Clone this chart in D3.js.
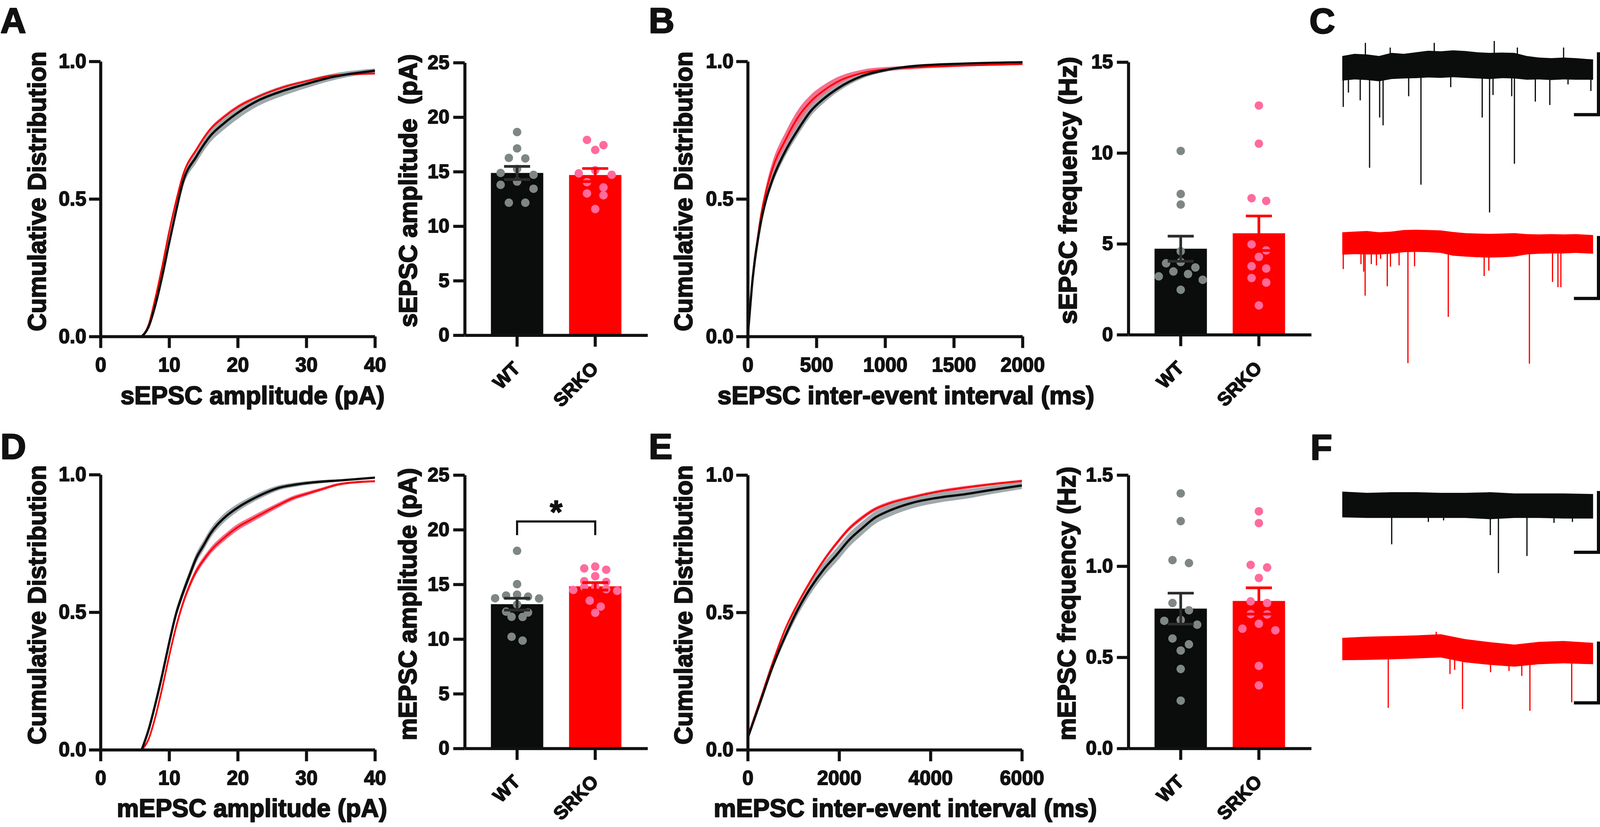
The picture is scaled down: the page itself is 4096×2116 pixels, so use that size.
<!DOCTYPE html>
<html><head><meta charset="utf-8">
<script src="https://cdn.jsdelivr.net/npm/d3@7"></script>
<style>html,body{margin:0;padding:0;background:#fff;overflow:hidden}svg{display:block}</style>
</head><body>
<script>
// ---------------- DATA ----------------
const groups = ["WT", "SRKO"];

// A: sEPSC amplitude cumulative distribution
const sAmpX        = [6, 7, 8, 9, 10, 11, 12, 14, 16, 18, 20, 23, 26.5, 30, 34, 40];
const sAmpCdfWT    = [0, 0.035, 0.115, 0.22, 0.34, 0.455, 0.56, 0.655, 0.729, 0.775, 0.813, 0.858, 0.892, 0.918, 0.944, 0.966];
const sAmpCdfWTsem = [0, 0.005, 0.010, 0.013, 0.016, 0.018, 0.020, 0.022, 0.023, 0.023, 0.022, 0.020, 0.018, 0.015, 0.012, 0.008];
const sAmpCdfKO    = [0, 0.042, 0.14, 0.255, 0.38, 0.49, 0.585, 0.68, 0.753, 0.798, 0.834, 0.872, 0.905, 0.928, 0.949, 0.956];
const sAmpCdfKOsem = [0, 0.003, 0.005, 0.006, 0.007, 0.007, 0.007, 0.007, 0.007, 0.007, 0.007, 0.006, 0.006, 0.005, 0.004, 0.004];

// B: sEPSC inter-event interval cumulative distribution
const sIeiX        = [0, 15, 30, 50, 70, 90, 135, 180, 275, 370, 460, 555, 650, 835, 1020, 1210, 1580, 2000];
const sIeiCdfWT    = [0, 0.09, 0.18, 0.27, 0.34, 0.40, 0.50, 0.57, 0.675, 0.755, 0.82, 0.865, 0.90, 0.947, 0.97, 0.983, 0.992, 0.997];
const sIeiCdfWTsem = [0, 0.005, 0.008, 0.010, 0.012, 0.014, 0.016, 0.018, 0.019, 0.019, 0.018, 0.016, 0.013, 0.009, 0.006, 0.004, 0.002, 0.001];
const sIeiCdfKO    = [0, 0.09, 0.18, 0.28, 0.35, 0.42, 0.53, 0.61, 0.715, 0.80, 0.855, 0.895, 0.925, 0.958, 0.972, 0.978, 0.985, 0.99];
const sIeiCdfKOsem = [0, 0.006, 0.010, 0.013, 0.016, 0.018, 0.022, 0.025, 0.028, 0.027, 0.024, 0.020, 0.017, 0.012, 0.008, 0.006, 0.004, 0.003];

// D: mEPSC amplitude cumulative distribution
const mAmpX        = [6, 7, 8, 9, 10, 11, 12, 13, 14, 15, 16, 18, 20, 22, 24, 26, 28, 30, 32, 35, 40];
const mAmpCdfWT    = [0, 0.072, 0.167, 0.273, 0.388, 0.493, 0.569, 0.636, 0.699, 0.742, 0.785, 0.842, 0.88, 0.909, 0.933, 0.952, 0.962, 0.969, 0.974, 0.979, 0.989];
const mAmpCdfWTsem = [0, 0.005, 0.009, 0.012, 0.014, 0.016, 0.017, 0.018, 0.018, 0.018, 0.017, 0.016, 0.014, 0.012, 0.011, 0.009, 0.008, 0.007, 0.006, 0.004, 0.003];
const mAmpCdfKO    = [0, 0.038, 0.12, 0.225, 0.34, 0.445, 0.531, 0.598, 0.651, 0.689, 0.722, 0.77, 0.809, 0.837, 0.864, 0.89, 0.914, 0.93, 0.945, 0.966, 0.976];
const mAmpCdfKOsem = [0, 0.004, 0.007, 0.009, 0.011, 0.012, 0.012, 0.012, 0.012, 0.012, 0.012, 0.012, 0.012, 0.011, 0.010, 0.009, 0.008, 0.007, 0.006, 0.005, 0.004];

// E: mEPSC inter-event interval cumulative distribution
const mIeiX        = [0, 264, 544, 825, 1106, 1386, 1667, 1948, 2228, 2509, 2790, 3070, 3631, 4193, 4754, 5315, 6000];
const mIeiCdfWT    = [0.043, 0.168, 0.302, 0.415, 0.513, 0.592, 0.657, 0.71, 0.765, 0.807, 0.845, 0.868, 0.90, 0.918, 0.93, 0.945, 0.962];
const mIeiCdfWTsem = [0.005, 0.008, 0.012, 0.016, 0.020, 0.022, 0.024, 0.025, 0.025, 0.024, 0.023, 0.022, 0.020, 0.018, 0.017, 0.015, 0.013];
const mIeiCdfKO    = [0.048, 0.177, 0.316, 0.441, 0.535, 0.617, 0.69, 0.752, 0.806, 0.845, 0.876, 0.895, 0.92, 0.94, 0.954, 0.966, 0.978];
const mIeiCdfKOsem = [0.004, 0.005, 0.006, 0.007, 0.008, 0.008, 0.008, 0.008, 0.008, 0.008, 0.007, 0.007, 0.006, 0.006, 0.006, 0.005, 0.005];

// Bar + scatter data (per cell)
const sAmpWT  = [18.63, 17.13, 16.26, 16.21, 15.25, 14.88, 14.71, 14.09, 13.79, 13.43, 12.15, 12.15];
const sAmpKO  = [17.91, 17.43, 16.99, 15.13, 14.84, 14.71, 14.04, 13.55, 13.0, 12.83, 11.57];
const sAmpMean = [14.88, 14.69], sAmpSem = [0.60, 0.60];
const sFreqWT = [10.11, 7.74, 7.16, 4.59, 4.0, 3.93, 3.70, 3.48, 3.34, 3.21, 3.02, 2.47];
const sFreqKO = [12.61, 10.51, 7.51, 7.36, 4.97, 4.64, 4.28, 3.77, 3.64, 3.12, 2.87, 1.61];
const sFreqMean = [4.73, 5.58], sFreqSem = [0.69, 0.95];
const mAmpWT  = [18.07, 15.02, 14.06, 13.98, 13.88, 13.73, 13.71, 13.16, 12.51, 12.43, 12.04, 12.02, 10.21, 9.86];
const mAmpKO  = [16.63, 16.46, 16.34, 15.75, 15.29, 15.23, 14.78, 14.76, 14.56, 14.49, 14.41, 13.51, 12.97, 12.40];
const mAmpMean = [13.19, 14.82], mAmpSem = [0.54, 0.34];
const mAmpBracket = [20.75, 19.5];   // bracket top / leg end (pA)
const mFreqWT = [1.399, 1.247, 1.033, 1.017, 0.798, 0.758, 0.705, 0.700, 0.679, 0.603, 0.571, 0.537, 0.436, 0.262];
const mFreqKO = [1.301, 1.236, 1.007, 0.993, 0.935, 0.807, 0.798, 0.737, 0.735, 0.684, 0.657, 0.648, 0.453, 0.346];
const mFreqMean = [0.767, 0.809], mFreqSem = [0.085, 0.072];

// Tick values
const cdfYTicks = [0, 0.5, 1.0];
const ampXTicks = [0, 10, 20, 30, 40];
const sIeiXTicks = [0, 500, 1000, 1500, 2000];
const mIeiXTicks = [0, 2000, 4000, 6000];
const ampBarTicks = [0, 5, 10, 15, 20, 25];
const sFreqTicks = [0, 5, 10, 15];
const mFreqTicks = [0, 0.5, 1.0, 1.5];

// Example traces (time in s, current in pA relative to baseline)
const tEnvC = [0, 0.5, 1, 1.5, 2, 2.5, 3, 3.5, 4, 4.5, 5, 5.5, 6, 6.5, 7, 7.5, 8, 8.5, 9, 9.5, 10.2];
const cWTup = [3.2, 3.9, 3.7, 3.2, 4.2, 3.9, 4.4, 4.9, 4.7, 5.0, 4.8, 4.4, 4.2, 4.3, 4.2, 3.2, 2.7, 2.5, 2.7, 2.5, 2.1];
const cWTlo = [-4.7, -4.3, -4.5, -4.9, -4.2, -4.0, -3.9, -3.7, -3.8, -3.6, -3.8, -4.0, -4.2, -3.9, -4.0, -4.4, -4.3, -4.5, -4.3, -4.4, -4.4];
const cKOup = [3.2, 3.4, 3.6, 3.2, 3.4, 3.9, 4.0, 3.9, 3.8, 3.3, 2.9, 2.8, 2.7, 2.8, 2.9, 2.6, 2.5, 2.6, 2.5, 2.6, 2.3];
const cKOlo = [-4.0, -3.8, -3.9, -3.9, -3.7, -3.2, -3.1, -3.2, -3.4, -4.3, -4.6, -4.8, -4.9, -4.8, -4.6, -3.9, -3.7, -3.6, -3.6, -3.4, -3.7];
const cWTevT = [0.04, 0.25, 0.73, 1.11, 1.52, 1.66, 2.70, 3.20, 4.41, 5.69, 5.99, 6.13, 6.89, 7.00, 7.85, 8.44, 9.18, 10.11, 0.94, 1.95, 3.74, 6.18, 7.12, 9.0];
const cWTevA = [-13.1, -8.5, -11, -32.6, -16.5, -19, -9.7, -38, -6.8, -16.5, -46.9, -9.3, -9.7, -31.3, -11.4, -12.5, -5.9, -8, 7.4, 5.9, 7.4, 8.0, 5.9, 5.9];
const cKOevT = [0.04, 0.76, 0.87, 0.93, 1.18, 1.39, 1.56, 1.83, 1.96, 2.31, 2.67, 2.94, 4.31, 5.77, 5.96, 7.61, 8.55, 8.77, 8.89];
const cKOevA = [-8.6, -7, -9.4, -17.1, -7, -7.4, -5.3, -14.1, -7.8, -7.4, -38.7, -7.7, -23.9, -10.8, -9.1, -38.9, -12.7, -14.4, -14.4];
const tEnvF = [0, 1, 2, 3, 4, 5, 6, 7, 8, 9, 10.2];
const fWTup = [2.2, 2.0, 2.1, 2.1, 2.0, 2.0, 2.1, 1.9, 1.9, 1.9, 1.8];
const fWTlo = [-2.0, -2.1, -2.1, -2.1, -2.1, -2.1, -2.3, -2.1, -2.1, -2.2, -2.2];
const fKOup = [1.9, 2.1, 2.2, 2.3, 2.5, 1.7, 1.2, 0.8, 1.25, 1.4, 1.1];
const fKOlo = [-1.75, -1.7, -1.6, -1.45, -1.3, -2.1, -2.5, -2.8, -2.4, -2.25, -2.4];
const fWTevT = [2.01, 3.50, 4.12, 6.02, 6.35, 7.51, 8.61, 9.36];
const fWTevA = [-6.4, -2.75, -2.5, -4.9, -11.1, -8.3, -2.9, -2.75];
const fKOevT = [1.87, 3.82, 4.38, 4.57, 4.89, 6.03, 6.78, 7.30, 7.63, 9.33];
const fKOevA = [-9.5, 2.9, -4.0, -3.3, -9.7, -3.7, -3.5, -4.3, -10.0, -8.6];
// scale bars: 20 pA / 1 s (C), 10 pA / 1 s (F); top of vertical bar in pA
const scaleBarTopC = [4.4, 2.0], scaleBarTopF = [2.3, 1.3];

// ---------------- DRAWING ----------------
const COL = {black:"#0b0c0c", red:"#ff0000", grayDot:"#7f8785", pinkDot:"#ff6b9c",
             grayBand:"#a0a8ab", pinkBand:"#f4708f", ebWT:"#2b2d2d", ink:"#111111"};
const FONT = '"Liberation Sans", Arial, Helvetica, sans-serif';

const svg = d3.select("body").append("svg")
  .attr("width", 4096).attr("height", 2116).attr("viewBox", "0 0 4178 2158");
svg.append("rect").attr("width", 4178).attr("height", 2158).attr("fill", "#fff");

function heavy(sel, w) {
  sel.attr("stroke", COL.ink).attr("stroke-width", w).attr("stroke-linejoin", "round").attr("paint-order", "stroke");
}
function styleAxis(g, fs) {
  g.attr("font-family", FONT).attr("font-size", fs).attr("font-weight", "bold").style("color", COL.ink);
  g.select(".domain").attr("stroke-width", 8);
  g.selectAll(".tick line").attr("stroke-width", 8);
  heavy(g.selectAll(".tick text"), 2.2);
}

function cdfPanel(cfg) {
  const x = d3.scaleLinear().domain(cfg.xDomain).range(cfg.xRange);
  const y = d3.scaleLinear().domain([0, 1]).range(cfg.yRange);
  const g = svg.append("g");
  const band = (m, s) => d3.area()
    .x((d, i) => x(cfg.xs[i]))
    .y0((d, i) => y(Math.max(0, m[i] - s[i])))
    .y1((d, i) => y(Math.min(1, m[i] + s[i])))
    .curve(d3.curveMonotoneX)(cfg.xs);
  const ln = m => d3.line().x((d, i) => x(cfg.xs[i])).y((d, i) => y(m[i])).curve(d3.curveMonotoneX)(cfg.xs);
  g.append("path").attr("d", band(cfg.ko, cfg.koSem)).attr("fill", COL.pinkBand);
  g.append("path").attr("d", band(cfg.wt, cfg.wtSem)).attr("fill", COL.grayBand);
  g.append("path").attr("d", ln(cfg.ko)).attr("fill", "none").attr("stroke", COL.red).attr("stroke-width", 4.5);
  g.append("path").attr("d", ln(cfg.wt)).attr("fill", "none").attr("stroke", COL.black).attr("stroke-width", 6);
  const ya = g.append("g").attr("transform", `translate(${cfg.xRange[0]},0)`)
    .call(d3.axisLeft(y).tickValues(cdfYTicks).tickFormat(d3.format(".1f")).tickSize(30).tickPadding(7).tickSizeOuter(0));
  styleAxis(ya, 52);
  const xa = g.append("g").attr("transform", `translate(0,${cfg.yRange[0]})`)
    .call(d3.axisBottom(x).tickValues(cfg.xTicks).tickFormat(d3.format("d")).tickSize(30).tickPadding(25).tickSizeOuter(0));
  styleAxis(xa, 52);
}

function swarmRows(vals, y, thresh) {
  const idx = vals.map((v, i) => i).sort((a, b) => vals[b] - vals[a]);
  const rows = []; let cur = null;
  idx.forEach(i => {
    const py = y(vals[i]);
    if (!cur || py - cur.top > thresh) { cur = {top: py, items: []}; rows.push(cur); }
    cur.items.push(i);
  });
  return rows.map(r => r.items);
}

function barPanel(cfg) {
  const x = d3.scaleBand().domain(groups).range(cfg.xRange).paddingInner(0.33).paddingOuter(0.335);
  const y = d3.scaleLinear().domain(cfg.yDomain).range(cfg.yRange);
  const g = svg.append("g");
  const bw = x.bandwidth(), r = 11;
  const sets = [cfg.wt, cfg.ko];
  const rows = sets.map(v => swarmRows(v, y, 22));
  const maxN = d3.max(rows.flat(), rw => rw.length);
  const spacing = maxN > 1 ? Math.min(43, (bw - 2 * r) / (maxN - 1)) : 0;

  groups.forEach((grp, gi) => {
    g.append("rect").attr("x", x(grp)).attr("y", y(cfg.mean[gi]))
      .attr("width", bw).attr("height", y(0) - y(cfg.mean[gi]))
      .attr("fill", gi ? COL.red : COL.black);
  });
  groups.forEach((grp, gi) => {
    const cx = x(grp) + bw / 2, vals = sets[gi];
    const off = new Array(vals.length).fill(0);
    rows[gi].forEach(rw => {
      const n = rw.length;
      const slots = d3.range(n).map(k => k - (n - 1) / 2).sort((a, b) => Math.abs(a) - Math.abs(b) || a - b);
      rw.forEach((i, k) => off[i] = slots[k] * spacing);
    });
    g.append("g").selectAll("circle").data(vals).join("circle")
      .attr("cx", (d, i) => cx + off[i]).attr("cy", d => y(d)).attr("r", r)
      .attr("fill", gi ? COL.pinkDot : COL.grayDot);
  });
  groups.forEach((grp, gi) => {
    const cx = x(grp) + bw / 2, m = cfg.mean[gi], s = cfg.sem[gi];
    const col = gi ? COL.red : COL.ebWT;
    const eb = g.append("g").attr("stroke", col).attr("stroke-width", 7);
    eb.append("line").attr("x1", cx).attr("x2", cx).attr("y1", y(m - s)).attr("y2", y(m + s));
    [m - s, m + s].forEach(v => eb.append("line").attr("x1", cx - 34).attr("x2", cx + 34).attr("y1", y(v)).attr("y2", y(v)));
  });
  if (cfg.bracket) {
    const x1 = x("WT") + bw / 2, x2 = x("SRKO") + bw / 2;
    g.append("path").attr("d", d3.line()([[x1, y(cfg.bracket[1])], [x1, y(cfg.bracket[0])], [x2, y(cfg.bracket[0])], [x2, y(cfg.bracket[1])]]))
      .attr("fill", "none").attr("stroke", COL.ink).attr("stroke-width", 5.5);
    g.append("text").attr("x", (x1 + x2) / 2).attr("y", y(cfg.bracket[0]) + 4.5)
      .attr("text-anchor", "middle").attr("font-family", FONT).attr("font-weight", "bold")
      .attr("font-size", 85).attr("fill", COL.ink).text("*").call(heavy, 2);
  }
  const ya = g.append("g").attr("transform", `translate(${cfg.xRange[0]},0)`)
    .call(d3.axisLeft(y).tickValues(cfg.yTicks).tickFormat(cfg.fmt).tickSize(30).tickPadding(10).tickSizeOuter(0));
  styleAxis(ya, 51);
  const xa = g.append("g").attr("transform", `translate(0,${cfg.yRange[0]})`)
    .call(d3.axisBottom(x).tickSize(30).tickSizeOuter(0));
  styleAxis(xa, 49);
  xa.selectAll(".tick text").attr("x", 11).attr("y", 90).attr("dy", null)
    .attr("text-anchor", "end").attr("transform", "rotate(-45 11 90)");
}

const xT = d3.scaleLinear().domain([0, 10.2]).range([3505, 4160]);
function tracePanel(cfg) {
  const y = d3.scaleLinear().domain([0, -cfg.barPA]).range([cfg.base, cfg.base + cfg.barPx]);
  const g = svg.append("g");
  const area = d3.area().x((d, i) => xT(cfg.tEnv[i])).y0((d, i) => y(cfg.lo[i])).y1((d, i) => y(cfg.up[i]));
  g.append("path").attr("d", area(cfg.tEnv)).attr("fill", cfg.color);
  g.append("g").selectAll("line").data(cfg.evT).join("line")
    .attr("x1", t => xT(t)).attr("x2", t => xT(t))
    .attr("y1", y(0)).attr("y2", (t, i) => y(cfg.evA[i]))
    .attr("stroke", cfg.color).attr("stroke-width", 3.2);
  const cT = 10.42, bot = cfg.barTop - cfg.barPA;
  g.append("path").attr("d", d3.line()([[xT(cT - 1), y(bot)], [xT(cT), y(bot)], [xT(cT), y(cfg.barTop)]]))
    .attr("fill", "none").attr("stroke", COL.black).attr("stroke-width", 8.5).attr("stroke-linejoin", "miter");
}

function vTitle(txt, bx, cy, len) {
  svg.append("text").attr("transform", `translate(${bx},${cy}) rotate(-90)`)
    .attr("text-anchor", "middle").attr("font-family", FONT).attr("font-weight", "bold")
    .attr("font-size", 66).attr("fill", COL.ink)
    .attr("textLength", len).attr("lengthAdjust", "spacingAndGlyphs").text(txt).call(heavy, 2.6);
}
function hTitle(txt, cx, by, len) {
  svg.append("text").attr("x", cx).attr("y", by)
    .attr("text-anchor", "middle").attr("font-family", FONT).attr("font-weight", "bold")
    .attr("font-size", 66).attr("fill", COL.ink)
    .attr("textLength", len).attr("lengthAdjust", "spacingAndGlyphs").text(txt).call(heavy, 2.6);
}
function panelLabel(txt, x, y) {
  svg.append("text").attr("x", x).attr("y", y).attr("font-family", FONT).attr("font-weight", "bold")
    .attr("font-size", 93).attr("fill", COL.ink).text(txt).call(heavy, 3);
}

// Top row
cdfPanel({xDomain: [0, 40], xRange: [262.5, 979], yRange: [878, 160], xTicks: ampXTicks,
  xs: sAmpX, wt: sAmpCdfWT, wtSem: sAmpCdfWTsem, ko: sAmpCdfKO, koSem: sAmpCdfKOsem});
cdfPanel({xDomain: [0, 2000], xRange: [1952.5, 2670], yRange: [878, 160], xTicks: sIeiXTicks,
  xs: sIeiX, wt: sIeiCdfWT, wtSem: sIeiCdfWTsem, ko: sIeiCdfKO, koSem: sIeiCdfKOsem});
barPanel({xRange: [1213.5, 1691], yRange: [874.6, 163.2], yDomain: [0, 25], yTicks: ampBarTicks, fmt: d3.format("d"),
  wt: sAmpWT, ko: sAmpKO, mean: sAmpMean, sem: sAmpSem});
barPanel({xRange: [2946.4, 3424], yRange: [873.3, 161.8], yDomain: [0, 15], yTicks: sFreqTicks, fmt: d3.format("d"),
  wt: sFreqWT, ko: sFreqKO, mean: sFreqMean, sem: sFreqSem});

// Bottom row
cdfPanel({xDomain: [0, 40], xRange: [262.5, 979], yRange: [1956.6, 1238.5], xTicks: ampXTicks,
  xs: mAmpX, wt: mAmpCdfWT, wtSem: mAmpCdfWTsem, ko: mAmpCdfKO, koSem: mAmpCdfKOsem});
cdfPanel({xDomain: [0, 6000], xRange: [1952.5, 2668.3], yRange: [1956.6, 1239.5], xTicks: mIeiXTicks,
  xs: mIeiX, wt: mIeiCdfWT, wtSem: mIeiCdfWTsem, ko: mIeiCdfKO, koSem: mIeiCdfKOsem});
barPanel({xRange: [1213.5, 1691], yRange: [1953.1, 1239.5], yDomain: [0, 25], yTicks: ampBarTicks, fmt: d3.format("d"),
  wt: mAmpWT, ko: mAmpKO, mean: mAmpMean, sem: mAmpSem, bracket: mAmpBracket});
barPanel({xRange: [2946.4, 3424], yRange: [1953.1, 1239.5], yDomain: [0, 1.5], yTicks: mFreqTicks, fmt: d3.format(".1f"),
  wt: mFreqWT, ko: mFreqKO, mean: mFreqMean, sem: mFreqSem});

// Traces
tracePanel({tEnv: tEnvC, up: cWTup, lo: cWTlo, evT: cWTevT, evA: cWTevA, color: COL.black, base: 172, barPA: 20, barPx: 163, barTop: scaleBarTopC[0]});
tracePanel({tEnv: tEnvC, up: cKOup, lo: cKOlo, evT: cKOevT, evA: cKOevA, color: COL.red, base: 632, barPA: 20, barPx: 163, barTop: scaleBarTopC[1]});
tracePanel({tEnv: tEnvF, up: fWTup, lo: fWTlo, evT: fWTevT, evA: fWTevA, color: COL.black, base: 1318, barPA: 10, barPx: 160, barTop: scaleBarTopF[0]});
tracePanel({tEnv: tEnvF, up: fKOup, lo: fKOlo, evT: fKOevT, evA: fKOevA, color: COL.red, base: 1695, barPA: 10, barPx: 160, barTop: scaleBarTopF[1]});

// Titles
vTitle("Cumulative Distribution", 119.4, 499.3, 730);
hTitle("sEPSC amplitude (pA)", 659.6, 1055, 690);
vTitle("sEPSC amplitude\u00a0 (pA)", 1088.8, 497.6, 713);
vTitle("Cumulative Distribution", 1807.5, 499.3, 730);
hTitle("sEPSC inter-event interval (ms)", 2365.6, 1055, 984);
vTitle("sEPSC frequency (Hz)", 2811, 496.9, 698);
vTitle("Cumulative Distribution", 119.4, 1578.4, 729);
hTitle("mEPSC amplitude (pA)", 658, 2132, 706);
vTitle("mEPSC amplitude (pA)", 1087.4, 1576.8, 711);
vTitle("Cumulative Distribution", 1807.5, 1578.4, 729);
hTitle("mEPSC inter-event interval (ms)", 2364, 2132, 1001);
vTitle("mEPSC frequency (Hz)", 2808, 1575, 715);

// Panel letters
panelLabel("A", 1, 86);
panelLabel("B", 1694, 86);
panelLabel("C", 3419, 87);
panelLabel("D", 1, 1197);
panelLabel("E", 1694, 1197);
panelLabel("F", 3422, 1199);
</script>
</body></html>
